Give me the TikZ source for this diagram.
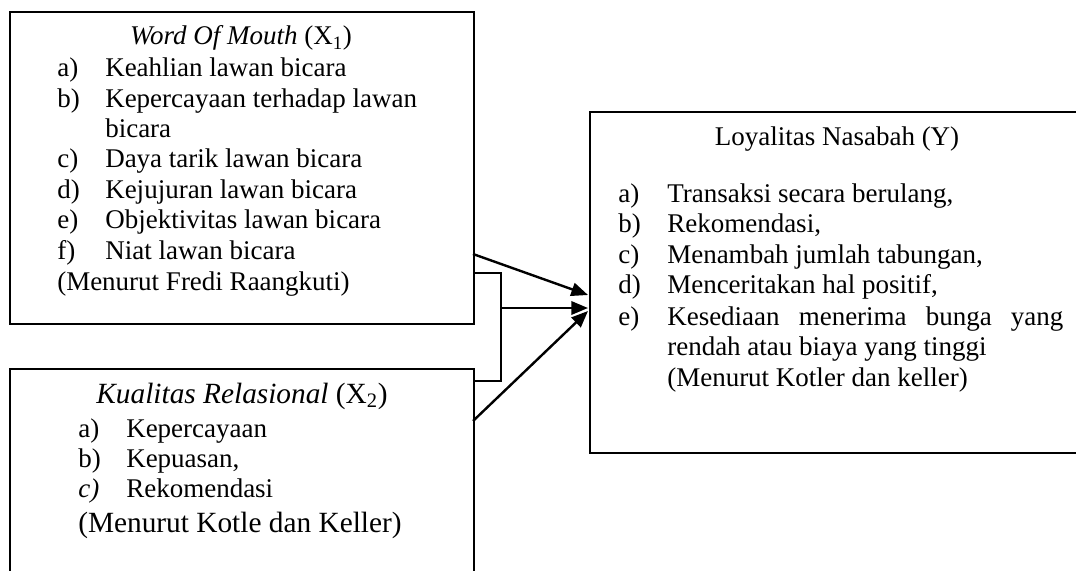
\documentclass[tikz,border=0pt]{standalone}
\usepackage{fontspec}
\setmainfont{Liberation Serif}
\usetikzlibrary{arrows.meta}
\begin{document}
\begin{tikzpicture}[x=0.75pt,y=-0.75pt,
  box/.style={draw,line width=1.6pt,rectangle,inner sep=0pt,anchor=north west},
  txt/.style={anchor=base west,inner sep=0pt,font=\fontsize{20.25pt}{24pt}\selectfont},
  ctxt/.style={anchor=base,inner sep=0pt,font=\fontsize{20.25pt}{24pt}\selectfont},
  bigtxt/.style={anchor=base west,inner sep=0pt,font=\fontsize{22pt}{26pt}\selectfont},
  bigctxt/.style={anchor=base,inner sep=0pt,font=\fontsize{22pt}{26pt}\selectfont},
  conn/.style={line width=1.8pt},
  arr/.style={line width=1.8pt,-{Triangle[length=12.5pt,width=10pt]}}]
\useasboundingbox (0,0) rectangle (1076,571);
\clip (0,0) rectangle (1076,571);
\fill[white] (0,0) rectangle (1076,571);
% boxes
\node[box,minimum width=348pt,minimum height=234pt] (b1) at (9,11) {};
\node[box,minimum width=348pt,minimum height=200pt] (b2) at (9,368) {};
\node[box,minimum width=400pt,minimum height=255.75pt] (b3) at (589,111) {};
% box 1 text
\node[ctxt] (t1) at (241,45) {\textit{Word Of Mouth} (X\textsubscript{1})};
\node[txt] (l1a) at (57,76) {a)}; \node[txt] (i1a) at (105,76) {Keahlian lawan bicara};
\node[txt] (l1b) at (57,107) {b)}; \node[txt] (i1b) at (105,107) {Kepercayaan terhadap lawan};
\node[txt] (i1b2) at (105,137) {bicara};
\node[txt] (l1c) at (57,167) {c)}; \node[txt] (i1c) at (105,167) {Daya tarik lawan bicara};
\node[txt] (l1d) at (57,198) {d)}; \node[txt] (i1d) at (105,198) {Kejujuran lawan bicara};
\node[txt] (l1e) at (57,228) {e)}; \node[txt] (i1e) at (105,228) {Objektivitas lawan bicara};
\node[txt] (l1f) at (57,259) {f)}; \node[txt] (i1f) at (105,259) {Niat lawan bicara};
\node[txt] (s1) at (57,290) {(Menurut Fredi Raangkuti)};
% box 2 text
\node[bigctxt] (t2) at (242,403) {\textit{Kualitas Relasional} (X\textsubscript{2})};
\node[txt] (l2a) at (78,437) {a)}; \node[txt] (i2a) at (126,437) {Kepercayaan};
\node[txt] (l2b) at (78,467) {b)}; \node[txt] (i2b) at (126,467) {Kepuasan,};
\node[txt] (l2c) at (78,497) {\textit{c)}}; \node[txt] (i2c) at (126,497) {Rekomendasi};
\node[bigtxt] (s2) at (78,532) {(Menurut Kotle dan Keller)};
% box 3 text
\node[ctxt] (t3) at (837,145) {Loyalitas Nasabah (Y)};
\node[txt] (l3a) at (618,202) {a)}; \node[txt] (i3a) at (667,202) {Transaksi secara berulang,};
\node[txt] (l3b) at (618,232) {b)}; \node[txt] (i3b) at (667,232) {Rekomendasi,};
\node[txt] (l3c) at (618,263) {c)}; \node[txt] (i3c) at (667,263) {Menambah jumlah tabungan,};
\node[txt] (l3d) at (618,293) {d)}; \node[txt] (i3d) at (667,293) {Menceritakan hal positif,};
\node[txt] (l3e) at (618,325) {e)}; \node[txt] (i3e) at (667,325) {\makebox[297pt][s]{Kesediaan menerima bunga yang}};
\node[txt] (i3e2) at (667,355) {rendah atau biaya yang tinggi};
\node[txt] (s3) at (667,386) {(Menurut Kotler dan keller)};
% connector points
\coordinate (p1) at (473,254);
\coordinate (q1) at (588,295);
\coordinate (k1) at (473,273);
\coordinate (k2) at (501,273);
\coordinate (k3) at (501,381);
\coordinate (k4) at (473,381);
\coordinate (m) at (501,308);
\coordinate (q2) at (588,308);
\coordinate (p3) at (473,421);
\coordinate (q3) at (588,311);
% connectors
\draw[arr] (p1) -- (q1);
\draw[conn] (k1) -- (k2) -- (k3) -- (k4);
\draw[arr] (m) -- (q2);
\draw[arr] (p3) -- (q3);
\end{tikzpicture}
\end{document}
